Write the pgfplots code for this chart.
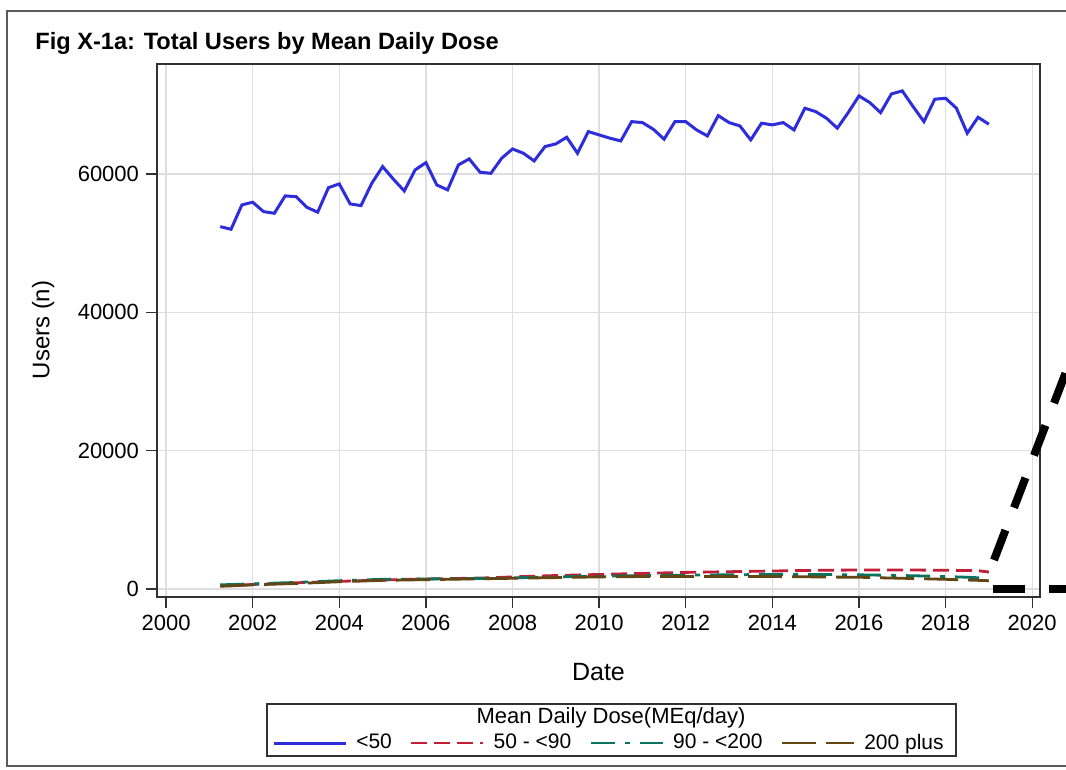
\documentclass[border=0pt]{standalone}
\usepackage{fontspec}
\setmainfont{Liberation Sans}
\usepackage{pgfplots}
\pgfplotsset{compat=1.18}

\definecolor{cBlue}{RGB}{45,45,220}
\definecolor{cRed}{RGB}{195,30,55}
\definecolor{cGreen}{RGB}{10,115,95}
\definecolor{cBrown}{RGB}{100,70,20}
\definecolor{cGrid}{RGB}{222,222,222}
\definecolor{cAxis}{RGB}{50,50,50}

\begin{document}
\begin{tikzpicture}[x=0.5pt,y=-0.5pt]
\useasboundingbox (0,0) rectangle (1066,770);
\clip (0,0) rectangle (1066,770);
\fill[white] (0,0) rectangle (1066,770);
% outer frame
\draw[line width=1pt, color=cAxis!80] (7,11) rectangle (1090,766);
\node[anchor=west, font=\bfseries\fontsize{11.8}{14}\selectfont, inner sep=0pt] at (35,43) {Fig X-1a: Total Users by Mean Daily Dose};

\begin{axis}[
  at={(78.5pt,-298.5pt)}, anchor=south west,
  scale only axis, width=441.5pt, height=266.5pt,
  xmin=1999.79, xmax=2020.18,
  ymin=-1157, ymax=75900,
  xtick={2000,2002,...,2020},
  ytick={0,20000,40000,60000},
  scaled y ticks=false,
  grid=major,
  major grid style={cGrid, line width=0.7pt},
  axis line style={cAxis, line width=0.8pt},
  tick style={cAxis, line width=0.7pt},
  tick align=outside, tick pos=left,
  major tick length=5.5pt,
  /pgf/number format/assume math mode=true,
  /pgf/number format/set thousands separator={},
  /pgf/number format/precision=0,
  xticklabel style={/pgf/number format/1000 sep={}},
  ticklabel style={font=\fontsize{11}{13}\selectfont},
  xlabel={Date}, ylabel={Users (n)},
  xlabel style={at={(axis description cs:0.5,-0.1407)}, anchor=center, font=\fontsize{12.5}{15}\selectfont},
  ylabel style={at={(axis description cs:-0.129,0.501)}, anchor=center, rotate=0, font=\fontsize{12}{14}\selectfont},
  clip=false,
  legend columns=4,
  legend style={at={(axis description cs:0.513,-0.274)}, anchor=center, draw=none, fill=none,
    font=\fontsize{10.5}{12.5}\selectfont, inner sep=0pt,
    /tikz/every odd column/.append style={column sep=2.5pt},
    /tikz/every even column/.append style={column sep=7pt}},
  legend image code/.code={\draw[#1] (0pt,0pt) -- (36pt,0pt);},
]
\addplot[cBlue, line width=1.5pt] coordinates {
(2001.25,52390) (2001.5,52010) (2001.75,55530) (2002.0,55920)
(2002.25,54560) (2002.5,54320) (2002.75,56830) (2003.0,56730)
(2003.25,55190) (2003.5,54470) (2003.75,58030) (2004.0,58560)
(2004.25,55670) (2004.5,55430) (2004.75,58660) (2005.0,61070)
(2005.25,59240) (2005.5,57550) (2005.75,60590) (2006.0,61640)
(2006.25,58420) (2006.5,57700) (2006.75,61310) (2007.0,62180)
(2007.25,60250) (2007.5,60100) (2007.75,62280) (2008.0,63620)
(2008.25,63000) (2008.5,61890) (2008.75,63960) (2009.0,64350)
(2009.25,65310) (2009.5,63000) (2009.75,66130) (2010.0,65650)
(2010.25,65170) (2010.5,64780) (2010.75,67570) (2011.0,67430)
(2011.25,66470) (2011.5,65030) (2011.75,67570) (2012.0,67570)
(2012.25,66370) (2012.5,65500) (2012.75,68440) (2013.0,67430)
(2013.25,66950) (2013.5,64930) (2013.75,67340) (2014.0,67100)
(2014.25,67430) (2014.5,66370) (2014.75,69510) (2015.0,69020)
(2015.25,68060) (2015.5,66620) (2015.75,68870) (2016.0,71290)
(2016.25,70320) (2016.5,68870) (2016.75,71580) (2017.0,72010)
(2017.25,69740) (2017.5,67570) (2017.75,70810) (2018.0,70950)
(2018.25,69510) (2018.5,65890) (2018.75,68200) (2019.0,67190)
};
\addlegendentry{<50}
\addplot[cRed, line width=1.4pt, dash pattern=on 8pt off 3.5pt] coordinates {
(2001.25,450) (2001.5,500) (2002,650) (2002.5,780) (2003,900) (2003.5,1000)
(2004,1100) (2004.5,1200) (2005,1300) (2005.5,1380) (2006,1450) (2006.5,1500)
(2007,1550) (2007.5,1620) (2008,1750) (2008.5,1850) (2009,1950) (2009.5,2030)
(2010,2100) (2010.5,2180) (2011,2250) (2011.5,2330) (2012,2400) (2012.5,2450)
(2013,2500) (2013.5,2550) (2014,2600) (2014.5,2650) (2015,2700) (2015.5,2720)
(2016,2750) (2016.5,2760) (2017,2750) (2017.5,2730) (2018,2700) (2018.5,2680)
(2018.75,2650) (2019,2450)
};
\addlegendentry{50 - <90}
\addplot[cGreen, line width=1.4pt, dash pattern=on 12pt off 5pt on 2.5pt off 5pt] coordinates {
(2001.25,600) (2001.5,650) (2002,750) (2002.5,850) (2003,950) (2003.5,1080)
(2004,1200) (2004.5,1300) (2005,1400) (2005.5,1420) (2006,1450) (2006.5,1480)
(2007,1500) (2007.5,1550) (2008,1600) (2008.5,1680) (2009,1750) (2009.5,1800)
(2010,1850) (2010.5,1900) (2011,1950) (2011.5,1980) (2012,2000) (2012.5,2030)
(2013,2050) (2013.5,2080) (2014,2100) (2014.5,2110) (2015,2100) (2015.5,2080)
(2016,2050) (2016.5,2000) (2017,1950) (2017.5,1880) (2018,1800) (2018.5,1700)
(2019,1550)
};
\addlegendentry{90 - <200}
\addplot[cBrown, line width=1.4pt, dash pattern=on 17pt off 5pt] coordinates {
(2001.25,400) (2001.5,450) (2002,600) (2002.5,700) (2003,800) (2003.5,920)
(2004,1050) (2004.5,1150) (2005,1250) (2005.5,1300) (2006,1350) (2006.5,1400)
(2007,1450) (2007.5,1500) (2008,1550) (2008.5,1600) (2009,1650) (2009.5,1700)
(2010,1750) (2010.5,1780) (2011,1800) (2011.5,1800) (2012,1800) (2012.5,1800)
(2013,1800) (2013.5,1800) (2014,1800) (2014.5,1780) (2015,1750) (2015.5,1720)
(2016,1700) (2016.5,1620) (2017,1550) (2017.5,1480) (2018,1400) (2018.5,1300)
(2019,1200)
};
\addlegendentry{200 plus}
\end{axis}

% legend frame and title
\draw[line width=0.8pt, cAxis] (267,704) rectangle (956,756);
\node[font=\fontsize{11}{13}\selectfont] at (611,718) {Mean Daily Dose(MEq/day)};

% thick dashed overlay strokes at right edge
\draw[line width=4pt, dash pattern=on 16pt off 12pt] (994,560) -- (1100,283);
\draw[line width=4pt, dash pattern=on 16pt off 12pt] (993,589) -- (1100,589);
\end{tikzpicture}
\end{document}
